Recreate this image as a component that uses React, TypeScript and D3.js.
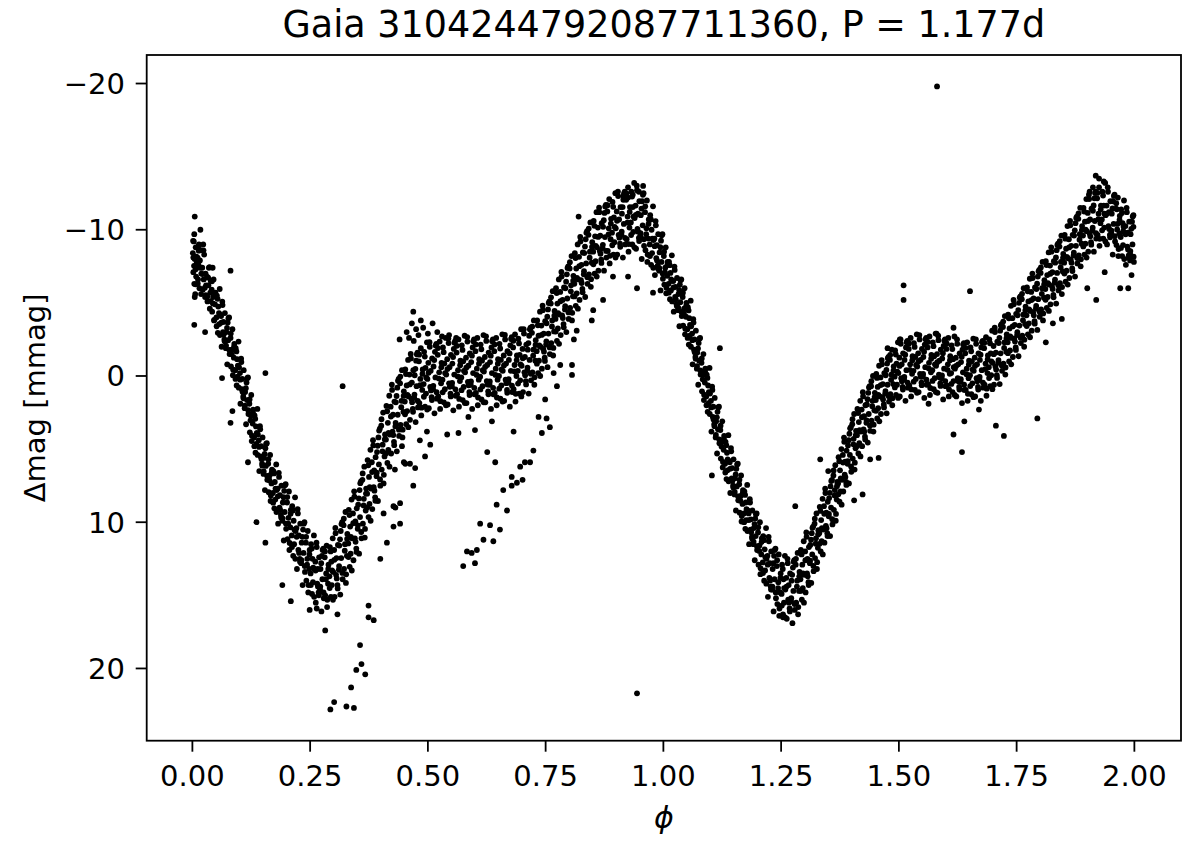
import React from 'react';
import * as d3 from 'd3';

const TITLE = 'Gaia 3104244792087711360, P = 1.177d';
const X_LABEL = 'ϕ';
const Y_LABEL = 'Δmag [mmag]';
const X_TICKS = [0, 0.25, 0.5, 0.75, 1, 1.25, 1.5, 1.75, 2];
const Y_TICKS = [-20, -10, 0, 10, 20];
const X_DOMAIN: [number, number] = [-0.097, 2.099];
const Y_DOMAIN: [number, number] = [-21.95, 24.94];

type P = [number, number];

// phase 0.00 - 0.50
const cycleA: P[] = [
[.001,-8.4],[.002,-7.1],[.003,-9.2],[.004,-6.3],[.005,-8.0],[.006,-7.5],[.007,-8.8],[.008,-6.8],[.009,-7.7],[.005,-10.9],[.004,-9.7],[.006,-5.6],[.004,-3.5],[.005,-5.4],[.002,-8.1],[.007,-7.3],
[.011,-8.1],[.012,-6.6],[.013,-7.6],[.014,-9.0],[.015,-6.0],[.016,-7.9],[.018,-8.6],[.019,-7.0],[.017,-10.0],[.013,-8.9],
[.021,-7.4],[.022,-5.9],[.024,-6.6],[.025,-8.3],[.027,-5.4],[.028,-7.0],[.029,-6.2],[.023,-9.0],[.027,-3.0],
[.031,-6.8],[.032,-5.1],[.034,-6.2],[.035,-7.4],[.037,-4.6],[.038,-5.7],[.039,-6.5],
[.041,-5.9],[.042,-4.4],[.044,-5.4],[.045,-6.6],[.046,-3.8],[.048,-4.9],[.049,-5.7],[.043,-7.4],
[.051,-4.0],[.052,-5.5],[.054,-2.95],[.055,-4.75],[.057,-3.55],[.058,-5.95],[.059,-4.2],
[.061,-4.1],[.062,-2.0],[.064,-4.85],[.065,-3.0],[.066,-3.7],[.068,-2.5],[.069,-4.3],[.063,0.14],
[.071,-1.9],[.072,-3.0],[.074,-0.8],[.075,-3.65],[.076,-2.45],[.078,-4.0],[.079,-1.5],
[.081,-2.6],[.082,-0.65],[.084,-1.8],[.085,-3.2],[.086,-0.05],[.088,-1.25],[.089,-2.2],[.081,-7.2],[.081,3.2],[.085,2.4],
[.091,-0.4],[.092,-1.9],[.094,0.65],[.095,-1.15],[.096,0.05],[.098,-2.35],[.099,-0.6],
[.101,-0.2],[.102,1.9],[.104,-0.95],[.105,0.9],[.106,0.2],[.108,1.4],[.109,-0.4],
[.111,2.2],[.112,1.1],[.114,3.3],[.115,0.45],[.116,1.65],[.118,0.1],[.119,2.6],[.118,5.9],
[.121,1.9],[.122,3.85],[.124,2.7],[.125,1.3],[.126,4.45],[.128,3.25],[.129,2.3],
[.131,4.2],[.132,2.7],[.134,5.25],[.135,3.45],[.136,4.65],[.138,2.25],[.139,4.0],[.136,10.0],
[.141,4.4],[.142,6.5],[.144,3.65],[.145,5.5],[.146,4.8],[.148,6.0],[.149,4.2],
[.151,6.7],[.152,5.6],[.154,7.8],[.155,4.95],[.156,6.15],[.158,4.6],[.159,7.1],[.155,-0.2],[.155,11.4],
[.161,6.0],[.162,7.95],[.164,6.8],[.165,5.4],[.166,8.55],[.168,7.35],[.169,6.4],
[.171,8.0],[.172,6.5],[.174,9.05],[.175,7.25],[.176,8.45],[.178,6.05],[.179,7.8],
[.181,7.7],[.182,10.1],[.184,6.9],[.185,9.0],[.186,8.15],[.188,9.5],[.189,7.5],
[.191,9.9],[.192,8.65],[.194,11.25],[.195,7.85],[.196,9.3],[.198,7.4],[.199,10.45],[.191,14.3],
[.201,8.65],[.202,11.15],[.204,9.7],[.205,7.9],[.206,11.9],[.208,10.35],[.209,9.15],[.209,15.4],
[.211,10.9],[.212,8.9],[.214,12.3],[.215,9.9],[.216,11.5],[.218,8.3],[.219,10.6],
[.221,10.4],[.222,13.2],[.224,9.4],[.225,11.9],[.226,10.9],[.228,12.5],[.229,10.1],
[.231,12.8],[.232,11.4],[.234,14.3],[.235,10.5],[.236,12.1],[.238,10.0],[.239,13.4],
[.241,11.4],[.242,14.0],[.244,12.5],[.245,10.6],[.246,14.8],[.248,13.2],[.249,11.9],[.249,16.0],
[.251,13.5],[.252,11.5],[.254,14.9],[.255,12.5],[.256,14.1],[.258,10.9],[.259,13.2],
[.261,12.7],[.262,15.5],[.264,11.7],[.265,14.2],[.266,13.2],[.268,14.8],[.269,12.4],[.264,15.9],
[.271,14.6],[.272,13.2],[.274,16.1],[.275,12.3],[.276,13.9],[.278,11.8],[.279,15.2],
[.281,12.4],[.282,15.0],[.284,13.5],[.285,11.6],[.286,15.8],[.288,14.2],[.289,12.9],[.282,17.4],
[.291,13.7],[.292,11.7],[.294,15.1],[.295,12.7],[.296,14.3],[.298,11.1],[.299,13.4],
[.301,11.9],[.302,15.1],[.304,10.75],[.305,13.6],[.306,12.45],[.308,14.3],[.309,11.55],[.308,16.3],
[.311,13.25],[.312,11.6],[.314,14.95],[.315,10.6],[.316,12.45],[.318,10.0],[.319,13.9],[.319,0.7],
[.321,10.2],[.322,13.2],[.324,11.5],[.325,9.3],[.326,14.15],[.328,12.3],[.329,10.8],
[.331,11.45],[.332,9.15],[.334,13.05],[.335,10.3],[.336,12.15],[.338,8.45],[.339,11.1],
[.341,9.4],[.342,12.6],[.344,8.25],[.345,11.1],[.346,9.95],[.348,11.8],[.349,9.05],
[.351,10.45],[.352,8.8],[.354,12.15],[.355,7.8],[.356,9.65],[.358,7.2],[.359,11.1],
[.361,7.1],[.362,10.1],[.364,8.4],[.365,6.2],[.366,11.05],[.368,9.2],[.369,7.7],
[.371,8.05],[.372,5.75],[.374,9.65],[.375,6.9],[.376,8.75],[.378,5.05],[.379,7.7],[.374,16.5],[.385,16.7],[.374,15.7],
[.381,5.9],[.382,9.1],[.384,4.75],[.385,7.6],[.386,6.45],[.388,8.3],[.389,5.55],
[.391,6.85],[.392,5.2],[.394,8.55],[.395,4.2],[.396,6.05],[.398,3.6],[.399,7.5],
[.401,3.4],[.402,6.4],[.404,4.7],[.405,2.5],[.406,7.35],[.408,5.5],[.409,4.0],
[.411,4.35],[.412,2.05],[.414,5.95],[.415,3.2],[.416,5.05],[.418,1.35],[.419,4.0],
[.421,2.1],[.422,5.3],[.424,0.95],[.425,3.8],[.426,2.65],[.428,4.5],[.429,1.75],
[.431,3.45],[.432,1.8],[.434,5.15],[.435,0.8],[.436,2.65],[.438,0.2],[.439,4.1],
[.441,0.5],[.442,3.35],[.444,1.7],[.445,-0.4],[.446,4.2],[.448,2.45],[.449,1.05],
[.451,1.75],[.452,-0.45],[.454,3.3],[.455,0.65],[.456,2.4],[.458,-1.1],[.459,1.4],
[.461,-0.1],[.462,3.0],[.464,-1.2],[.465,1.55],[.466,0.45],[.468,2.25],[.469,-0.4],
[.471,1.5],[.472,-0.05],[.474,3.15],[.475,-1.05],[.476,0.7],[.478,-1.6],[.479,2.15],
[.481,-1.0],[.482,1.85],[.484,0.2],[.485,-1.9],[.486,2.7],[.488,0.95],[.489,-0.45],
[.491,0.55],[.492,-1.65],[.494,2.1],[.495,-0.55],[.496,1.2],[.498,-2.3],[.499,0.2],
];

// second set of readings, phase 0.00 - 0.50
const cycleA2: P[] = [
[.0015,-9.24],[.0035,-7.53],[.0065,-6.27],[.0085,-8.16],
[.0115,-6.32],[.0135,-8.57],[.0165,-7.4],[.0185,-5.6],
[.0215,-6.97],[.0235,-8.59],[.0265,-6.04],[.0285,-5.53],
[.0315,-5.44],[.0335,-6.72],[.0365,-7.44],[.0385,-5.12],
[.0415,-6.48],[.0435,-4.96],[.0465,-3.84],[.0485,-5.52],
[.0515,-3.4],[.0535,-5.28],[.0565,-4.3],[.0585,-2.8],
[.0615,-3.65],[.0635,-5.08],[.0665,-2.83],[.0685,-2.38],
[.0715,-2.08],[.0735,-3.28],[.0765,-3.95],[.0785,-1.78],
[.0815,-2.9],[.0835,-1.48],[.0865,-0.43],[.0885,-2.0],
[.0915,0.2],[.0935,-1.68],[.0965,-0.7],[.0985,0.8],
[.1015,0.25],[.1035,-1.18],[.1065,1.08],[.1085,1.53],
[.1115,2.03],[.1135,0.83],[.1165,0.15],[.1185,2.33],
[.1215,1.6],[.1235,3.03],[.1265,4.08],[.1285,2.5],
[.1315,4.8],[.1335,2.93],[.1365,3.9],[.1385,5.4],
[.1415,4.85],[.1435,3.43],[.1465,5.68],[.1485,6.13],
[.1515,6.53],[.1535,5.33],[.1565,4.65],[.1585,6.83],
[.1615,5.7],[.1635,7.13],[.1665,8.18],[.1685,6.6],
[.1715,8.66],[.1735,6.66],[.1765,7.7],[.1785,9.3],
[.1815,8.23],[.1835,6.62],[.1865,9.17],[.1885,9.68],
[.1915,9.73],[.1935,8.29],[.1965,7.48],[.1985,10.09],
[.2015,8.28],[.2035,10.09],[.2065,11.42],[.2085,9.42],
[.2115,11.7],[.2135,9.2],[.2165,10.5],[.2185,12.5],
[.2215,11.0],[.2235,9.1],[.2265,12.1],[.2285,12.7],
[.2315,12.6],[.2335,11.0],[.2365,10.1],[.2385,13.0],
[.2415,11.0],[.2435,12.9],[.2465,14.3],[.2485,12.2],
[.2515,14.3],[.2535,11.8],[.2565,13.1],[.2585,15.1],
[.2615,13.3],[.2635,11.4],[.2665,14.4],[.2685,15.0],
[.2715,14.4],[.2735,12.8],[.2765,11.9],[.2785,14.8],
[.2815,12.0],[.2835,13.9],[.2865,15.3],[.2885,13.2],
[.2915,14.5],[.2935,12.0],[.2965,13.3],[.2985,15.3],
[.3015,12.57],[.3035,10.39],[.3065,13.84],[.3085,14.53],
[.3115,13.0],[.3135,11.17],[.3165,10.13],[.3185,13.47],
[.3215,9.76],[.3235,11.95],[.3265,13.56],[.3285,11.14],
[.3315,12.38],[.3335,9.51],[.3365,11.0],[.3385,13.3],
[.3415,10.07],[.3435,7.89],[.3465,11.34],[.3485,12.03],
[.3515,10.21],[.3535,8.37],[.3565,7.33],[.3585,10.67],
[.3615,6.66],[.3635,8.85],[.3665,10.46],[.3685,8.04],
[.3715,8.98],[.3735,6.11],[.3765,7.6],[.3785,9.9],
[.3815,6.57],[.3835,4.39],[.3865,7.84],[.3885,8.53],
[.3915,6.61],[.3935,4.77],[.3965,3.73],[.3985,7.07],
[.4015,2.96],[.4035,5.15],[.4065,6.76],[.4085,4.34],
[.4115,5.28],[.4135,2.41],[.4165,3.9],[.4185,6.2],
[.4215,2.77],[.4235,0.59],[.4265,4.04],[.4285,4.73],
[.4315,3.21],[.4335,1.37],[.4365,0.33],[.4385,3.67],
[.4415,0.04],[.4435,2.13],[.4465,3.67],[.4485,1.36],
[.4515,2.62],[.4535,-0.13],[.4565,1.3],[.4585,3.5],
[.4615,0.58],[.4635,-1.51],[.4665,1.79],[.4685,2.45],
[.4715,1.27],[.4735,-0.49],[.4765,-1.48],[.4785,1.71],
[.4815,-1.46],[.4835,0.63],[.4865,2.17],[.4885,-0.14],
[.4915,1.42],[.4935,-1.33],[.4965,0.1],[.4985,2.3],
];

// points above the plateau near phase 0.45 - 0.56
const spurPoints: P[] = [
[.469,-4.4],[.466,-3.6],[.475,-3.2],[.455,-3.0],[.48,-2.8],[.49,-3.3],[.50,-2.9],[.52,-3.0],
[.53,-2.7],[.545,-2.8],[.56,-2.6],[.44,-2.5],[.485,-3.8],[.46,-2.6],[.51,-3.6],[.47,-2.4],
];

// faint secondary branch below the first cycle
const lowerPoints: P[] = [
[.356,18.4],[.359,19.7],[.348,20.1],[.367,20.4],[.337,21.3],[.301,22.3],[.293,22.8],[.327,22.6],[.343,22.7],
[.399,12.5],[.413,11.4],[.427,10.3],[.441,10.1],[.427,8.9],[.441,8.7],[.406,9.4],[.452,6.0],[.462,6.0],
[.473,6.3],[.469,7.5],[.494,5.5],[.505,4.7],[.483,4.4],[.498,3.8],[.449,5.9],[.445,4.8],[.431,9.0],[.43,6.4],
];

// phase 0.50 - 1.00
const cycleB: P[] = [
[.501,-0.9],[.502,2.2],[.504,-2.0],[.505,0.75],[.506,-0.35],[.508,1.45],[.509,-1.2],
[.511,0.9],[.512,-0.65],[.514,2.55],[.515,-1.65],[.516,0.1],[.518,-2.2],[.519,1.55],
[.521,-1.45],[.522,1.4],[.524,-0.25],[.525,-2.35],[.526,2.25],[.528,0.5],[.529,-0.9],
[.531,0.25],[.532,-1.95],[.534,1.8],[.535,-0.85],[.536,0.9],[.538,-2.6],[.539,-0.1],
[.541,-1.15],[.542,1.95],[.544,-2.25],[.545,0.5],[.546,-0.6],[.548,1.2],[.549,-1.45],[.541,4.0],
[.551,0.7],[.552,-0.85],[.554,2.35],[.555,-1.85],[.556,-0.1],[.558,-2.4],[.559,1.35],
[.561,-1.6],[.562,1.25],[.564,-0.4],[.565,-2.5],[.566,2.1],[.568,0.35],[.569,-1.05],[.565,3.9],
[.571,0.1],[.572,-2.1],[.574,1.65],[.575,-1.0],[.576,0.75],[.578,-2.75],[.579,-0.25],[.575,13.0],
[.581,-1.25],[.582,1.85],[.584,-2.35],[.585,0.4],[.586,-0.7],[.588,1.1],[.589,-1.55],[.583,12.0],[.586,2.8],
[.591,0.6],[.592,-0.95],[.594,2.25],[.595,-1.95],[.596,-0.2],[.598,-2.5],[.599,1.25],[.593,12.1],
[.601,-1.7],[.602,1.15],[.604,-0.5],[.605,-2.6],[.606,2.0],[.608,0.25],[.609,-1.15],[.600,3.7],[.604,11.9],[.600,12.8],
[.611,0.05],[.612,-2.15],[.614,1.6],[.615,-1.05],[.616,0.7],[.618,-2.8],[.619,-0.3],[.611,10.1],[.618,11.2],
[.621,-1.3],[.622,1.8],[.624,-2.4],[.625,0.35],[.626,-0.75],[.628,1.05],[.629,-1.6],[.626,5.2],
[.631,0.6],[.632,-0.95],[.634,2.25],[.635,-1.95],[.636,-0.2],[.638,-2.5],[.639,1.25],[.632,10.2],[.639,11.3],[.636,3.1],
[.641,-1.7],[.642,1.15],[.644,-0.5],[.645,-2.6],[.646,2.0],[.648,0.25],[.649,-1.15],[.643,5.9],[.646,8.8],
[.651,0.0],[.652,-2.2],[.654,1.55],[.655,-1.1],[.656,0.65],[.658,-2.85],[.659,-0.35],[.653,10.5],
[.661,-1.4],[.662,1.7],[.664,-2.5],[.665,0.25],[.666,-0.85],[.668,0.95],[.669,-1.7],[.660,7.8],[.668,9.2],
[.671,0.45],[.672,-1.1],[.674,2.1],[.675,-2.1],[.676,-0.35],[.678,-2.65],[.679,1.1],[.678,7.5],[.678,6.9],
[.681,-1.95],[.682,0.9],[.684,-0.75],[.685,-2.85],[.686,1.75],[.688,0.0],[.689,-1.4],[.682,3.8],[.689,7.3],
[.691,-0.35],[.692,-2.55],[.694,1.2],[.695,-1.45],[.696,0.3],[.698,-3.2],[.699,-0.7],[.696,6.2],
[.701,-1.85],[.702,1.1],[.704,-2.9],[.705,-0.25],[.706,-1.3],[.708,0.35],[.709,-2.15],[.701,7.1],[.706,5.9],
[.711,-0.35],[.712,-1.8],[.714,1.2],[.715,-2.75],[.716,-1.1],[.718,-3.3],[.719,0.3],[.717,5.9],
[.721,-2.95],[.722,-0.25],[.724,-1.8],[.725,-3.8],[.726,0.6],[.728,-1.05],[.729,-2.45],[.724,5.1],
[.731,-1.7],[.732,-3.8],[.734,-0.2],[.735,-2.75],[.736,-1.05],[.738,-4.4],[.739,-2.0],[.735,2.8],
[.741,-3.45],[.742,-0.5],[.744,-4.5],[.745,-1.85],[.746,-2.9],[.748,-1.25],[.749,-3.75],[.742,3.9],[.749,1.6],
[.751,-2.15],[.752,-3.6],[.754,-0.6],[.755,-4.55],[.756,-2.9],[.758,-5.1],[.759,-1.5],[.752,2.9],[.759,3.5],
[.761,-4.95],[.762,-2.25],[.764,-3.8],[.765,-5.8],[.766,-1.4],[.768,-3.05],[.769,-4.45],[.767,-0.2],
[.771,-3.9],[.772,-6.0],[.774,-2.4],[.775,-4.95],[.776,-3.25],[.778,-6.6],[.779,-4.2],[.774,0.7],
[.781,-5.75],[.782,-2.8],[.784,-6.8],[.785,-4.15],[.786,-5.2],[.788,-3.55],[.789,-6.05],[.781,-0.75],
[.791,-4.55],[.792,-6.0],[.794,-3.0],[.795,-6.95],[.796,-5.3],[.798,-7.5],[.799,-3.9],
[.801,-7.35],[.802,-4.65],[.804,-6.2],[.805,-8.2],[.806,-3.8],[.808,-5.45],[.809,-6.85],[.806,-0.75],[.806,-0.07],
[.811,-6.3],[.812,-8.4],[.814,-4.8],[.815,-7.35],[.816,-5.65],[.818,-9.0],[.819,-6.6],[.810,-2.5],[.816,-3.1],
[.821,-8.15],[.822,-5.2],[.824,-9.2],[.825,-6.55],[.826,-7.6],[.828,-5.95],[.829,-8.45],[.820,-10.9],
[.831,-6.95],[.832,-8.4],[.834,-5.4],[.835,-9.35],[.836,-7.7],[.838,-9.9],[.839,-6.3],
[.841,-9.65],[.842,-6.95],[.844,-8.5],[.845,-10.5],[.846,-6.1],[.848,-7.75],[.849,-9.15],[.848,-3.8],
[.851,-8.5],[.852,-10.6],[.854,-7.0],[.855,-9.55],[.856,-7.85],[.858,-11.2],[.859,-8.8],[.851,-4.5],
[.861,-10.15],[.862,-7.2],[.864,-11.2],[.865,-8.55],[.866,-9.6],[.868,-7.95],[.869,-10.45],
[.871,-8.75],[.872,-10.2],[.874,-7.2],[.875,-11.15],[.876,-9.5],[.878,-11.7],[.879,-8.1],[.872,-5.2],
[.881,-11.25],[.882,-8.55],[.884,-10.1],[.885,-12.1],[.886,-7.7],[.888,-9.35],[.889,-10.75],
[.891,-9.8],[.892,-11.9],[.894,-8.3],[.895,-10.85],[.896,-9.15],[.898,-12.5],[.899,-10.1],[.893,-6.8],
[.901,-11.25],[.902,-8.3],[.904,-12.3],[.905,-9.65],[.906,-10.7],[.908,-9.05],[.909,-11.55],
[.911,-9.65],[.912,-11.1],[.914,-8.1],[.915,-12.05],[.916,-10.4],[.918,-12.6],[.919,-9.0],[.915,-12.3],
[.921,-12.05],[.922,-9.35],[.924,-10.9],[.925,-12.9],[.926,-8.5],[.928,-10.15],[.929,-11.55],[.925,-6.8],[.925,-12.2],
[.931,-10.5],[.932,-12.6],[.934,-9.0],[.935,-11.55],[.936,-9.85],[.938,-13.2],[.939,-10.8],[.935,-12.4],
[.941,-11.65],[.942,-8.7],[.944,-12.7],[.945,-10.05],[.946,-11.1],[.948,-9.45],[.949,-11.95],[.944,-6.0],[.948,-12.6],[.944,21.7],
[.951,-9.55],[.952,-11.0],[.954,-8.0],[.955,-11.95],[.956,-10.3],[.958,-12.5],[.959,-8.9],[.957,-13.0],
[.961,-11.2],[.962,-8.6],[.964,-10.1],[.965,-12.0],[.966,-7.8],[.968,-9.4],[.969,-10.7],
[.971,-9.0],[.972,-11.0],[.974,-7.6],[.975,-10.0],[.976,-8.4],[.978,-11.6],[.979,-9.3],[.978,-5.7],
[.981,-9.4],[.982,-6.9],[.984,-10.3],[.985,-8.05],[.986,-8.95],[.988,-7.55],[.989,-9.7],
[.991,-7.2],[.992,-8.45],[.994,-5.85],[.995,-9.25],[.996,-7.8],[.998,-9.7],[.999,-6.65],
];

// second set of readings, phase 0.50 - 1.00
const cycleB2: P[] = [
[.5015,-0.22],[.5035,-2.31],[.5065,0.99],[.5085,1.65],
[.5115,0.67],[.5135,-1.09],[.5165,-2.08],[.5185,1.11],
[.5215,-1.91],[.5235,0.18],[.5265,1.72],[.5285,-0.59],
[.5315,1.12],[.5335,-1.63],[.5365,-0.2],[.5385,2.0],
[.5415,-0.47],[.5435,-2.56],[.5465,0.74],[.5485,1.4],
[.5515,0.47],[.5535,-1.29],[.5565,-2.28],[.5585,0.91],
[.5615,-2.06],[.5635,0.03],[.5665,1.57],[.5685,-0.74],
[.5715,0.97],[.5735,-1.78],[.5765,-0.35],[.5785,1.85],
[.5815,-0.57],[.5835,-2.66],[.5865,0.64],[.5885,1.3],
[.5915,0.37],[.5935,-1.39],[.5965,-2.38],[.5985,0.81],
[.6015,-2.16],[.6035,-0.07],[.6065,1.47],[.6085,-0.84],
[.6115,0.92],[.6135,-1.83],[.6165,-0.4],[.6185,1.8],
[.6215,-0.62],[.6235,-2.71],[.6265,0.59],[.6285,1.25],
[.6315,0.37],[.6335,-1.39],[.6365,-2.38],[.6385,0.81],
[.6415,-2.16],[.6435,-0.07],[.6465,1.47],[.6485,-0.84],
[.6515,0.87],[.6535,-1.88],[.6565,-0.45],[.6585,1.75],
[.6615,-0.72],[.6635,-2.81],[.6665,0.49],[.6685,1.15],
[.6715,0.22],[.6735,-1.54],[.6765,-2.53],[.6785,0.66],
[.6815,-2.41],[.6835,-0.32],[.6865,1.22],[.6885,-1.09],
[.6915,0.52],[.6935,-2.23],[.6965,-0.8],[.6985,1.4],
[.7015,-1.21],[.7035,-3.2],[.7065,-0.05],[.7085,0.58],
[.7115,-0.57],[.7135,-2.25],[.7165,-3.19],[.7185,-0.15],
[.7215,-3.38],[.7235,-1.39],[.7265,0.09],[.7285,-2.12],
[.7315,-0.84],[.7335,-3.47],[.7365,-2.1],[.7385,0.0],
[.7415,-2.81],[.7435,-4.81],[.7465,-1.66],[.7485,-1.03],
[.7515,-2.37],[.7535,-4.05],[.7565,-4.99],[.7585,-1.95],
[.7615,-5.38],[.7635,-3.39],[.7665,-1.92],[.7685,-4.12],
[.7715,-3.04],[.7735,-5.67],[.7765,-4.3],[.7785,-2.2],
[.7815,-5.11],[.7835,-7.11],[.7865,-3.96],[.7885,-3.33],
[.7915,-4.77],[.7935,-6.45],[.7965,-7.39],[.7985,-4.35],
[.8015,-7.78],[.8035,-5.79],[.8065,-4.32],[.8085,-6.52],
[.8115,-5.44],[.8135,-8.07],[.8165,-6.7],[.8185,-4.6],
[.8215,-7.51],[.8235,-9.51],[.8265,-6.36],[.8285,-5.73],
[.8315,-7.17],[.8335,-8.85],[.8365,-9.79],[.8385,-6.75],
[.8415,-10.08],[.8435,-8.09],[.8465,-6.62],[.8485,-8.82],
[.8515,-7.64],[.8535,-10.27],[.8565,-8.9],[.8585,-6.8],
[.8615,-9.51],[.8635,-11.51],[.8665,-8.36],[.8685,-7.73],
[.8715,-8.97],[.8735,-10.65],[.8765,-11.59],[.8785,-8.55],
[.8815,-11.68],[.8835,-9.69],[.8865,-8.22],[.8885,-10.42],
[.8915,-8.94],[.8935,-11.57],[.8965,-10.2],[.8985,-8.1],
[.9015,-10.61],[.9035,-12.61],[.9065,-9.46],[.9085,-8.83],
[.9115,-9.87],[.9135,-11.55],[.9165,-12.49],[.9185,-9.45],
[.9215,-12.48],[.9235,-10.49],[.9265,-9.02],[.9285,-11.22],
[.9315,-9.64],[.9335,-12.27],[.9365,-10.9],[.9385,-8.8],
[.9415,-11.01],[.9435,-13.01],[.9465,-9.86],[.9485,-9.23],
[.9515,-9.77],[.9535,-11.45],[.9565,-12.39],[.9585,-9.35],
[.9615,-11.6],[.9635,-9.7],[.9665,-8.3],[.9685,-10.4],
[.9715,-8.2],[.9735,-10.7],[.9765,-9.4],[.9785,-7.4],
[.9815,-8.88],[.9835,-10.59],[.9865,-7.89],[.9885,-7.35],
[.9915,-7.37],[.9935,-8.81],[.9965,-9.62],[.9985,-7.01],
];

// phase 1.00 - 1.50
const cycleC: P[] = [
[1.001,-8.2],[1.002,-6.25],[1.004,-7.4],[1.005,-8.8],[1.006,-5.65],[1.008,-6.85],[1.009,-7.8],
[1.011,-6.3],[1.012,-7.8],[1.014,-5.25],[1.015,-7.05],[1.016,-5.85],[1.018,-8.25],[1.019,-6.5],
[1.021,-6.5],[1.022,-4.4],[1.024,-7.25],[1.025,-5.4],[1.026,-6.1],[1.028,-4.9],[1.029,-6.7],
[1.031,-4.5],[1.032,-5.6],[1.034,-3.4],[1.035,-6.25],[1.036,-5.05],[1.038,-6.6],[1.039,-4.1],
[1.041,-5.4],[1.042,-3.45],[1.044,-4.6],[1.045,-6.0],[1.046,-2.85],[1.048,-4.05],[1.049,-5.0],
[1.051,-3.2],[1.052,-4.7],[1.054,-2.15],[1.055,-3.95],[1.056,-2.75],[1.058,-5.15],[1.059,-3.4],
[1.061,-2.9],[1.062,-0.8],[1.064,-3.65],[1.065,-1.8],[1.066,-2.5],[1.068,-1.3],[1.069,-3.1],
[1.071,-0.5],[1.072,-1.6],[1.074,0.6],[1.075,-2.25],[1.076,-1.05],[1.078,-2.6],[1.079,-0.1],
[1.081,-0.9],[1.082,1.05],[1.084,-0.1],[1.085,-1.5],[1.086,1.65],[1.088,0.45],[1.089,-0.5],
[1.091,1.4],[1.092,-0.1],[1.094,2.45],[1.095,0.65],[1.096,1.85],[1.098,-0.55],[1.099,1.2],
[1.101,1.7],[1.102,3.8],[1.104,0.95],[1.105,2.8],[1.106,2.1],[1.108,3.3],[1.109,1.5],[1.103,6.8],
[1.111,4.2],[1.112,3.1],[1.114,5.3],[1.115,2.45],[1.116,3.65],[1.118,2.1],[1.119,4.6],
[1.121,3.7],[1.122,5.65],[1.124,4.5],[1.125,3.1],[1.126,6.25],[1.128,5.05],[1.129,4.1],[1.120,-1.9],
[1.131,6.0],[1.132,4.5],[1.134,7.05],[1.135,5.25],[1.136,6.45],[1.138,4.05],[1.139,5.8],
[1.141,5.9],[1.142,8.0],[1.144,5.15],[1.145,7.0],[1.146,6.3],[1.148,7.5],[1.149,5.7],
[1.151,8.1],[1.152,7.0],[1.154,9.2],[1.155,6.35],[1.156,7.55],[1.158,6.0],[1.159,8.5],
[1.161,7.4],[1.162,9.35],[1.164,8.2],[1.165,6.8],[1.166,9.95],[1.168,8.75],[1.169,7.8],
[1.171,9.4],[1.172,7.9],[1.174,10.45],[1.175,8.65],[1.176,9.85],[1.178,7.45],[1.179,9.2],
[1.181,9.4],[1.182,11.5],[1.184,8.65],[1.185,10.5],[1.186,9.8],[1.188,11.0],[1.189,9.2],
[1.191,11.5],[1.192,10.4],[1.194,12.6],[1.195,9.75],[1.196,10.95],[1.198,9.4],[1.199,11.9],
[1.201,10.7],[1.202,12.9],[1.204,11.6],[1.205,10.0],[1.206,13.55],[1.208,12.2],[1.209,11.1],
[1.211,12.75],[1.212,10.95],[1.214,14.0],[1.215,11.85],[1.216,13.3],[1.218,10.4],[1.219,12.5],
[1.221,12.3],[1.222,15.1],[1.224,11.3],[1.225,13.8],[1.226,12.8],[1.228,14.4],[1.229,12.0],
[1.231,14.6],[1.232,13.2],[1.234,16.1],[1.235,12.3],[1.236,13.9],[1.238,11.8],[1.239,15.2],
[1.241,13.0],[1.242,15.6],[1.244,14.1],[1.245,12.2],[1.246,16.4],[1.248,14.8],[1.249,13.5],
[1.251,14.9],[1.252,12.9],[1.254,16.3],[1.255,13.9],[1.256,15.5],[1.258,12.3],[1.259,14.6],[1.254,16.5],
[1.261,13.8],[1.262,16.6],[1.264,12.8],[1.265,15.3],[1.266,14.3],[1.268,15.9],[1.269,13.5],
[1.271,15.4],[1.272,14.0],[1.274,16.9],[1.275,13.1],[1.276,14.7],[1.278,12.6],[1.279,16.0],
[1.281,12.9],[1.282,15.5],[1.284,14.0],[1.285,12.1],[1.286,16.3],[1.288,14.7],[1.289,13.4],[1.280,8.9],
[1.291,13.9],[1.292,11.9],[1.294,15.3],[1.295,12.9],[1.296,14.5],[1.298,11.3],[1.299,13.6],
[1.301,12.0],[1.302,14.8],[1.304,11.0],[1.305,13.5],[1.306,12.5],[1.308,14.1],[1.309,11.7],
[1.311,12.8],[1.312,11.55],[1.314,14.15],[1.315,10.75],[1.316,12.2],[1.318,10.3],[1.319,13.35],
[1.321,10.1],[1.322,12.45],[1.324,11.1],[1.325,9.4],[1.326,13.2],[1.328,11.75],[1.329,10.55],
[1.331,10.75],[1.332,8.95],[1.334,12.0],[1.335,9.85],[1.336,11.3],[1.338,8.4],[1.339,10.5],[1.333,5.7],
[1.341,8.9],[1.342,11.4],[1.344,8.0],[1.345,10.25],[1.346,9.35],[1.348,10.75],[1.349,8.6],
[1.351,9.6],[1.352,8.35],[1.354,10.95],[1.355,7.55],[1.356,9.0],[1.358,7.1],[1.359,10.15],[1.350,6.5],
[1.361,6.8],[1.362,9.15],[1.364,7.8],[1.365,6.1],[1.366,9.9],[1.368,8.45],[1.369,7.25],
[1.371,7.35],[1.372,5.55],[1.374,8.6],[1.375,6.45],[1.376,7.9],[1.378,5.0],[1.379,7.1],
[1.381,5.4],[1.382,7.9],[1.384,4.5],[1.385,6.75],[1.386,5.85],[1.388,7.25],[1.389,5.1],
[1.391,6.0],[1.392,4.75],[1.394,7.35],[1.395,3.95],[1.396,5.4],[1.398,3.5],[1.399,6.55],
[1.401,3.3],[1.402,5.65],[1.404,4.3],[1.405,2.6],[1.406,6.4],[1.408,4.95],[1.409,3.75],[1.405,8.5],
[1.411,4.05],[1.412,2.25],[1.414,5.3],[1.415,3.15],[1.416,4.6],[1.418,1.7],[1.419,3.8],
[1.421,2.3],[1.422,4.8],[1.424,1.4],[1.425,3.65],[1.426,2.75],[1.428,4.15],[1.429,2.0],[1.423,8.1],
[1.431,3.2],[1.432,1.95],[1.434,4.55],[1.435,1.15],[1.436,2.6],[1.438,0.7],[1.439,3.75],[1.439,5.7],
[1.441,0.7],[1.442,3.05],[1.444,1.7],[1.445,0.0],[1.446,3.8],[1.448,2.35],[1.449,1.15],
[1.451,1.65],[1.452,-0.15],[1.454,2.9],[1.455,0.75],[1.456,2.2],[1.458,-0.7],[1.459,1.4],[1.457,5.6],
[1.461,0.1],[1.462,2.6],[1.464,-0.8],[1.465,1.45],[1.466,0.55],[1.468,1.95],[1.469,-0.2],
[1.471,1.2],[1.472,-0.05],[1.474,2.55],[1.475,-0.85],[1.476,0.6],[1.478,-1.3],[1.479,1.75],[1.476,-1.9],
[1.481,-1.1],[1.482,1.25],[1.484,-0.1],[1.485,-1.8],[1.486,2.0],[1.488,0.55],[1.489,-0.65],
[1.491,0.05],[1.492,-1.75],[1.494,1.3],[1.495,-0.85],[1.496,0.6],[1.498,-2.3],[1.499,-0.2],
];

// second set of readings, phase 1.00 - 1.50
const cycleC2: P[] = [
[1.0015,-8.5],[1.0035,-7.08],[1.0065,-6.03],[1.0085,-7.6],
[1.0115,-5.7],[1.0135,-7.58],[1.0165,-6.6],[1.0185,-5.1],
[1.0215,-6.05],[1.0235,-7.48],[1.0265,-5.23],[1.0285,-4.78],
[1.0315,-4.68],[1.0335,-5.88],[1.0365,-6.55],[1.0385,-4.38],
[1.0415,-5.7],[1.0435,-4.28],[1.0465,-3.23],[1.0485,-4.8],
[1.0515,-2.6],[1.0535,-4.48],[1.0565,-3.5],[1.0585,-2.0],
[1.0615,-2.45],[1.0635,-3.88],[1.0665,-1.63],[1.0685,-1.18],
[1.0715,-0.68],[1.0735,-1.88],[1.0765,-2.55],[1.0785,-0.38],
[1.0815,-1.2],[1.0835,0.23],[1.0865,1.28],[1.0885,-0.3],
[1.0915,2.0],[1.0935,0.13],[1.0965,1.1],[1.0985,2.6],
[1.1015,2.15],[1.1035,0.73],[1.1065,2.98],[1.1085,3.43],
[1.1115,4.03],[1.1135,2.83],[1.1165,2.15],[1.1185,4.33],
[1.1215,3.4],[1.1235,4.83],[1.1265,5.88],[1.1285,4.3],
[1.1315,6.6],[1.1335,4.73],[1.1365,5.7],[1.1385,7.2],
[1.1415,6.35],[1.1435,4.93],[1.1465,7.18],[1.1485,7.63],
[1.1515,7.93],[1.1535,6.73],[1.1565,6.05],[1.1585,8.23],
[1.1615,7.1],[1.1635,8.53],[1.1665,9.58],[1.1685,8.0],
[1.1715,10.0],[1.1735,8.13],[1.1765,9.1],[1.1785,10.6],
[1.1815,9.85],[1.1835,8.43],[1.1865,10.68],[1.1885,11.13],
[1.1915,11.33],[1.1935,10.13],[1.1965,9.45],[1.1985,11.63],
[1.2015,10.34],[1.2035,11.96],[1.2065,13.15],[1.2085,11.36],
[1.2115,13.48],[1.2135,11.23],[1.2165,12.4],[1.2185,14.2],
[1.2215,12.9],[1.2235,11.0],[1.2265,14.0],[1.2285,14.6],
[1.2315,14.4],[1.2335,12.8],[1.2365,11.9],[1.2385,14.8],
[1.2415,12.6],[1.2435,14.5],[1.2465,15.9],[1.2485,13.8],
[1.2515,15.7],[1.2535,13.2],[1.2565,14.5],[1.2585,16.5],
[1.2615,14.4],[1.2635,12.5],[1.2665,15.5],[1.2685,16.1],
[1.2715,15.2],[1.2735,13.6],[1.2765,12.7],[1.2785,15.6],
[1.2815,12.5],[1.2835,14.4],[1.2865,15.8],[1.2885,13.7],
[1.2915,14.7],[1.2935,12.2],[1.2965,13.5],[1.2985,15.5],
[1.3015,12.6],[1.3035,10.7],[1.3065,13.7],[1.3085,14.3],
[1.3115,12.63],[1.3135,11.19],[1.3165,10.38],[1.3185,12.99],
[1.3215,9.76],[1.3235,11.47],[1.3265,12.73],[1.3285,10.84],
[1.3315,11.48],[1.3335,9.23],[1.3365,10.4],[1.3385,12.2],
[1.3415,9.42],[1.3435,7.71],[1.3465,10.41],[1.3485,10.95],
[1.3515,9.43],[1.3535,7.99],[1.3565,7.18],[1.3585,9.79],
[1.3615,6.46],[1.3635,8.17],[1.3665,9.43],[1.3685,7.54],
[1.3715,8.08],[1.3735,5.83],[1.3765,7.0],[1.3785,8.8],
[1.3815,5.92],[1.3835,4.21],[1.3865,6.91],[1.3885,7.45],
[1.3915,5.83],[1.3935,4.39],[1.3965,3.58],[1.3985,6.19],
[1.4015,2.96],[1.4035,4.67],[1.4065,5.93],[1.4085,4.04],
[1.4115,4.78],[1.4135,2.53],[1.4165,3.7],[1.4185,5.5],
[1.4215,2.82],[1.4235,1.11],[1.4265,3.81],[1.4285,4.35],
[1.4315,3.03],[1.4335,1.59],[1.4365,0.78],[1.4385,3.39],
[1.4415,0.36],[1.4435,2.07],[1.4465,3.33],[1.4485,1.44],
[1.4515,2.38],[1.4535,0.13],[1.4565,1.3],[1.4585,3.1],
[1.4615,0.62],[1.4635,-1.09],[1.4665,1.61],[1.4685,2.15],
[1.4715,1.03],[1.4735,-0.41],[1.4765,-1.22],[1.4785,1.39],
[1.4815,-1.44],[1.4835,0.27],[1.4865,1.53],[1.4885,-0.36],
[1.4915,0.78],[1.4935,-1.47],[1.4965,-0.3],[1.4985,1.5],
];

// phase 1.50 - 2.00
const cycleD: P[] = [
[1.501,-1.25],[1.502,1.4],[1.504,-2.2],[1.505,0.15],[1.506,-0.8],[1.508,0.75],[1.509,-1.55],[1.502,-2.5],[1.51,-6.2],[1.51,-5.2],
[1.511,0.25],[1.512,-1.1],[1.514,1.7],[1.515,-1.95],[1.516,-0.4],[1.518,-2.4],[1.519,0.8],
[1.521,-1.85],[1.522,0.65],[1.524,-0.8],[1.525,-2.6],[1.526,1.4],[1.528,-0.15],[1.529,-1.35],
[1.531,-0.35],[1.532,-2.25],[1.534,0.95],[1.535,-1.3],[1.536,0.2],[1.538,-2.85],[1.539,-0.65],
[1.541,-1.55],[1.542,1.1],[1.544,-2.5],[1.545,-0.15],[1.546,-1.1],[1.548,0.45],[1.549,-1.85],
[1.551,0.05],[1.552,-1.3],[1.554,1.5],[1.555,-2.15],[1.556,-0.6],[1.558,-2.6],[1.559,0.6],
[1.561,-1.95],[1.562,0.55],[1.564,-0.9],[1.565,-2.7],[1.566,1.3],[1.568,-0.25],[1.569,-1.45],[1.563,1.9],
[1.571,-0.4],[1.572,-2.3],[1.574,0.9],[1.575,-1.35],[1.576,0.15],[1.578,-2.9],[1.579,-0.7],
[1.581,-1.5],[1.582,1.15],[1.584,-2.45],[1.585,-0.1],[1.586,-1.05],[1.588,0.5],[1.589,-1.8],[1.58,-2.9],[1.581,-19.8],
[1.591,0.15],[1.592,-1.2],[1.594,1.6],[1.595,-2.05],[1.596,-0.5],[1.598,-2.5],[1.599,0.7],
[1.601,-1.85],[1.602,0.65],[1.604,-0.8],[1.605,-2.6],[1.606,1.4],[1.608,-0.15],[1.609,-1.35],
[1.611,-0.2],[1.612,-2.1],[1.614,1.1],[1.615,-1.15],[1.616,0.35],[1.618,-2.7],[1.619,-0.5],[1.616,4.0],[1.616,-3.3],
[1.621,-1.25],[1.622,1.4],[1.624,-2.2],[1.625,0.15],[1.626,-0.8],[1.628,0.75],[1.629,-1.55],
[1.631,0.4],[1.632,-0.95],[1.634,1.85],[1.635,-1.8],[1.636,-0.25],[1.638,-2.25],[1.639,0.95],[1.634,5.2],[1.639,3.1],
[1.641,-1.55],[1.642,0.95],[1.644,-0.5],[1.645,-2.3],[1.646,1.7],[1.648,0.15],[1.649,-1.05],
[1.651,-0.05],[1.652,-1.95],[1.654,1.25],[1.655,-1.0],[1.656,0.5],[1.658,-2.55],[1.659,-0.35],[1.651,-5.8],
[1.661,-1.25],[1.662,1.4],[1.664,-2.2],[1.665,0.15],[1.666,-0.8],[1.668,0.75],[1.669,-1.55],
[1.671,0.25],[1.672,-1.1],[1.674,1.7],[1.675,-1.95],[1.676,-0.4],[1.678,-2.4],[1.679,0.8],[1.670,2.3],
[1.681,-1.9],[1.682,0.6],[1.684,-0.85],[1.685,-2.65],[1.686,1.35],[1.688,-0.2],[1.689,-1.4],
[1.691,-0.6],[1.692,-2.5],[1.694,0.7],[1.695,-1.55],[1.696,-0.05],[1.698,-3.1],[1.699,-0.9],
[1.701,-2.05],[1.702,0.6],[1.704,-3.0],[1.705,-0.65],[1.706,-1.6],[1.708,-0.05],[1.709,-2.35],[1.706,3.4],
[1.711,-0.9],[1.712,-2.25],[1.714,0.55],[1.715,-3.1],[1.716,-1.55],[1.718,-3.55],[1.719,-0.35],
[1.721,-3.35],[1.722,-0.85],[1.724,-2.3],[1.725,-4.1],[1.726,-0.1],[1.728,-1.65],[1.729,-2.85],[1.723,4.1],
[1.731,-2.3],[1.732,-4.2],[1.734,-1.0],[1.735,-3.25],[1.736,-1.75],[1.738,-4.8],[1.739,-2.6],
[1.741,-3.95],[1.742,-1.3],[1.744,-4.9],[1.745,-2.55],[1.746,-3.5],[1.748,-1.95],[1.749,-4.25],
[1.751,-2.8],[1.752,-4.15],[1.754,-1.35],[1.755,-5.0],[1.756,-3.45],[1.758,-5.45],[1.759,-2.25],
[1.761,-5.25],[1.762,-2.75],[1.764,-4.2],[1.765,-6.0],[1.766,-2.0],[1.768,-3.55],[1.769,-4.75],
[1.771,-4.15],[1.772,-6.05],[1.774,-2.85],[1.775,-5.1],[1.776,-3.6],[1.778,-6.65],[1.779,-4.45],
[1.781,-5.75],[1.782,-3.1],[1.784,-6.7],[1.785,-4.35],[1.786,-5.3],[1.788,-3.75],[1.789,-6.05],
[1.791,-4.6],[1.792,-5.95],[1.794,-3.15],[1.795,-6.8],[1.796,-5.25],[1.798,-7.25],[1.799,-4.05],[1.794,2.9],
[1.801,-7.05],[1.802,-4.55],[1.804,-6.0],[1.805,-7.8],[1.806,-3.8],[1.808,-5.35],[1.809,-6.55],
[1.811,-5.95],[1.812,-7.85],[1.814,-4.65],[1.815,-6.9],[1.816,-5.4],[1.818,-8.45],[1.819,-6.25],[1.812,-2.3],
[1.821,-7.55],[1.822,-4.9],[1.824,-8.5],[1.825,-6.15],[1.826,-7.1],[1.828,-5.55],[1.829,-7.85],[1.827,-3.6],
[1.831,-6.4],[1.832,-7.75],[1.834,-4.95],[1.835,-8.6],[1.836,-7.05],[1.838,-9.05],[1.839,-5.85],
[1.841,-8.85],[1.842,-6.35],[1.844,-7.8],[1.845,-9.6],[1.846,-5.6],[1.848,-7.15],[1.849,-8.35],[1.846,-3.9],
[1.851,-7.75],[1.852,-9.65],[1.854,-6.45],[1.855,-8.7],[1.856,-7.2],[1.858,-10.25],[1.859,-8.05],
[1.861,-9.35],[1.862,-6.7],[1.864,-10.3],[1.865,-7.95],[1.866,-8.9],[1.868,-7.35],[1.869,-9.65],
[1.871,-8.25],[1.872,-9.6],[1.874,-6.8],[1.875,-10.45],[1.876,-8.9],[1.878,-10.9],[1.879,-7.7],
[1.881,-10.75],[1.882,-8.25],[1.884,-9.7],[1.885,-11.5],[1.886,-7.5],[1.888,-9.05],[1.889,-10.25],
[1.891,-9.6],[1.892,-11.5],[1.894,-8.3],[1.895,-10.55],[1.896,-9.05],[1.898,-12.1],[1.899,-9.9],
[1.901,-11.15],[1.902,-8.5],[1.904,-12.1],[1.905,-9.75],[1.906,-10.7],[1.908,-9.15],[1.909,-11.45],[1.900,-6.0],[1.905,-12.6],
[1.911,-9.95],[1.912,-11.3],[1.914,-8.5],[1.915,-12.15],[1.916,-10.6],[1.918,-12.6],[1.919,-9.4],[1.912,-12.9],[1.919,-5.2],
[1.921,-12.15],[1.922,-9.65],[1.924,-11.1],[1.925,-12.9],[1.926,-8.9],[1.928,-10.45],[1.929,-11.65],[1.918,-13.7],[1.925,-13.5],
[1.931,-10.7],[1.932,-12.6],[1.934,-9.4],[1.935,-11.65],[1.936,-10.15],[1.938,-13.2],[1.939,-11.0],[1.935,-13.3],[1.937,-7.1],
[1.941,-11.65],[1.942,-9.0],[1.944,-12.6],[1.945,-10.25],[1.946,-11.2],[1.948,-9.65],[1.949,-11.95],
[1.951,-9.75],[1.952,-11.1],[1.954,-8.3],[1.955,-11.95],[1.956,-10.4],[1.958,-12.4],[1.959,-9.2],
[1.961,-11.45],[1.962,-8.95],[1.964,-10.4],[1.965,-12.2],[1.966,-8.2],[1.968,-9.75],[1.969,-10.95],[1.963,-11.4],
[1.971,-9.5],[1.972,-11.4],[1.974,-8.2],[1.975,-10.45],[1.976,-8.95],[1.978,-12.0],[1.979,-9.8],[1.970,-6.0],[1.977,-10.2],
[1.981,-10.25],[1.982,-7.6],[1.984,-11.2],[1.985,-8.85],[1.986,-9.8],[1.988,-8.25],[1.989,-10.55],[1.987,-6.0],
[1.991,-8.35],[1.992,-9.7],[1.994,-6.9],[1.995,-10.55],[1.996,-9.0],[1.998,-11.0],[1.999,-7.8],[1.991,-7.9],[1.998,-10.2],
];

// second set of readings, phase 1.50 - 2.00
const cycleD2: P[] = [
[1.5015,-0.69],[1.5035,-2.5],[1.5065,0.36],[1.5085,0.93],
[1.5115,0.07],[1.5135,-1.46],[1.5165,-2.31],[1.5185,0.45],
[1.5215,-2.22],[1.5235,-0.42],[1.5265,0.92],[1.5285,-1.08],
[1.5315,0.39],[1.5335,-1.99],[1.5365,-0.75],[1.5385,1.15],
[1.5415,-0.99],[1.5435,-2.8],[1.5465,0.06],[1.5485,0.63],
[1.5515,-0.14],[1.5535,-1.66],[1.5565,-2.51],[1.5585,0.25],
[1.5615,-2.32],[1.5635,-0.52],[1.5665,0.82],[1.5685,-1.18],
[1.5715,0.34],[1.5735,-2.04],[1.5765,-0.8],[1.5785,1.1],
[1.5815,-0.94],[1.5835,-2.75],[1.5865,0.11],[1.5885,0.68],
[1.5915,-0.04],[1.5935,-1.56],[1.5965,-2.41],[1.5985,0.35],
[1.6015,-2.22],[1.6035,-0.42],[1.6065,0.92],[1.6085,-1.08],
[1.6115,0.54],[1.6135,-1.84],[1.6165,-0.6],[1.6185,1.3],
[1.6215,-0.69],[1.6235,-2.5],[1.6265,0.36],[1.6285,0.93],
[1.6315,0.22],[1.6335,-1.31],[1.6365,-2.16],[1.6385,0.6],
[1.6415,-1.92],[1.6435,-0.12],[1.6465,1.22],[1.6485,-0.78],
[1.6515,0.69],[1.6535,-1.69],[1.6565,-0.45],[1.6585,1.45],
[1.6615,-0.69],[1.6635,-2.5],[1.6665,0.36],[1.6685,0.93],
[1.6715,0.07],[1.6735,-1.46],[1.6765,-2.31],[1.6785,0.45],
[1.6815,-2.27],[1.6835,-0.47],[1.6865,0.87],[1.6885,-1.13],
[1.6915,0.14],[1.6935,-2.24],[1.6965,-1.0],[1.6985,0.9],
[1.7015,-1.49],[1.7035,-3.3],[1.7065,-0.44],[1.7085,0.13],
[1.7115,-1.09],[1.7135,-2.61],[1.7165,-3.46],[1.7185,-0.71],
[1.7215,-3.72],[1.7235,-1.92],[1.7265,-0.58],[1.7285,-2.58],
[1.7315,-1.56],[1.7335,-3.94],[1.7365,-2.7],[1.7385,-0.8],
[1.7415,-3.39],[1.7435,-5.2],[1.7465,-2.35],[1.7485,-1.78],
[1.7515,-2.99],[1.7535,-4.51],[1.7565,-5.36],[1.7585,-2.61],
[1.7615,-5.62],[1.7635,-3.82],[1.7665,-2.48],[1.7685,-4.48],
[1.7715,-3.41],[1.7735,-5.79],[1.7765,-4.55],[1.7785,-2.65],
[1.7815,-5.19],[1.7835,-7.0],[1.7865,-4.15],[1.7885,-3.58],
[1.7915,-4.79],[1.7935,-6.31],[1.7965,-7.16],[1.7985,-4.41],
[1.8015,-7.42],[1.8035,-5.62],[1.8065,-4.28],[1.8085,-6.28],
[1.8115,-5.21],[1.8135,-7.59],[1.8165,-6.35],[1.8185,-4.45],
[1.8215,-6.99],[1.8235,-8.8],[1.8265,-5.95],[1.8285,-5.38],
[1.8315,-6.59],[1.8335,-8.11],[1.8365,-8.96],[1.8385,-6.21],
[1.8415,-9.22],[1.8435,-7.42],[1.8465,-6.08],[1.8485,-8.08],
[1.8515,-7.01],[1.8535,-9.39],[1.8565,-8.15],[1.8585,-6.25],
[1.8615,-8.79],[1.8635,-10.6],[1.8665,-7.75],[1.8685,-7.18],
[1.8715,-8.44],[1.8735,-9.96],[1.8765,-10.81],[1.8785,-8.06],
[1.8815,-11.12],[1.8835,-9.32],[1.8865,-7.98],[1.8885,-9.98],
[1.8915,-8.86],[1.8935,-11.24],[1.8965,-10.0],[1.8985,-8.1],
[1.9015,-10.59],[1.9035,-12.4],[1.9065,-9.55],[1.9085,-8.98],
[1.9115,-10.14],[1.9135,-11.66],[1.9165,-12.51],[1.9185,-9.76],
[1.9215,-12.52],[1.9235,-10.72],[1.9265,-9.38],[1.9285,-11.38],
[1.9315,-9.96],[1.9335,-12.34],[1.9365,-11.1],[1.9385,-9.2],
[1.9415,-11.09],[1.9435,-12.9],[1.9465,-10.05],[1.9485,-9.48],
[1.9515,-9.94],[1.9535,-11.46],[1.9565,-12.31],[1.9585,-9.56],
[1.9615,-11.82],[1.9635,-10.02],[1.9665,-8.68],[1.9685,-10.68],
[1.9715,-8.76],[1.9735,-11.14],[1.9765,-9.9],[1.9785,-8.0],
[1.9815,-9.69],[1.9835,-11.5],[1.9865,-8.65],[1.9885,-8.08],
[1.9915,-8.54],[1.9935,-10.06],[1.9965,-10.91],[1.9985,-8.16],
];

const FONT = '"DejaVu Sans", sans-serif';

function fmtY(v: number): string {
  return v < 0 ? '\u2212' + Math.abs(v) : String(v);
}

export default function App() {
  const W = 1200;
  const H = 846;
  const left = 146.7, right = 1181, top = 55, bottom = 740.7;
  const x = d3.scaleLinear().domain(X_DOMAIN).range([left, right]);
  const y = d3.scaleLinear().domain(Y_DOMAIN).range([top, bottom]);
  const fmtX = d3.format('.2f');
  const points: P[] = [
    ...cycleA, ...cycleA2, ...spurPoints, ...lowerPoints,
    ...cycleB, ...cycleB2, ...cycleC, ...cycleC2, ...cycleD, ...cycleD2,
  ];

  return (
    <svg width={W} height={H} viewBox={`0 0 ${W} ${H}`}
      style={{ position: 'absolute', left: 0, top: 0, background: '#fff' }}
      fontFamily={FONT}>
      <rect x={0} y={0} width={W} height={H} fill="#fff" />
      <g>
        {points.map((p, i) => (
          <circle key={i} cx={x(p[0])} cy={y(p[1])} r={2.9} fill="#000" />
        ))}
      </g>
      <rect x={left} y={top} width={right - left} height={bottom - top}
        fill="none" stroke="#000" strokeWidth={1.8} />
      {X_TICKS.map((t) => (
        <g key={'x' + t}>
          <line x1={x(t)} x2={x(t)} y1={bottom} y2={bottom + 11} stroke="#000" strokeWidth={1.8} />
          <text x={x(t)} y={786} textAnchor="middle" fontSize={29} fill="#000">{fmtX(t)}</text>
        </g>
      ))}
      {Y_TICKS.map((t) => (
        <g key={'y' + t}>
          <line x1={left - 11} x2={left} y1={y(t)} y2={y(t)} stroke="#000" strokeWidth={1.8} />
          <text x={125} y={y(t) + 10.5} textAnchor="end" fontSize={29} fill="#000">{fmtY(t)}</text>
        </g>
      ))}
      <text x={(left + right) / 2} y={37} textAnchor="middle" fontSize={36.5} fill="#000">{TITLE}</text>
      <text x={(left + right) / 2} y={828} textAnchor="middle" fontSize={30} fontStyle="italic" fill="#000">{X_LABEL}</text>
      <text transform={`translate(45, ${(top + bottom) / 2}) rotate(-90)`} textAnchor="middle" fontSize={29} fill="#000">{Y_LABEL}</text>
    </svg>
  );
}
